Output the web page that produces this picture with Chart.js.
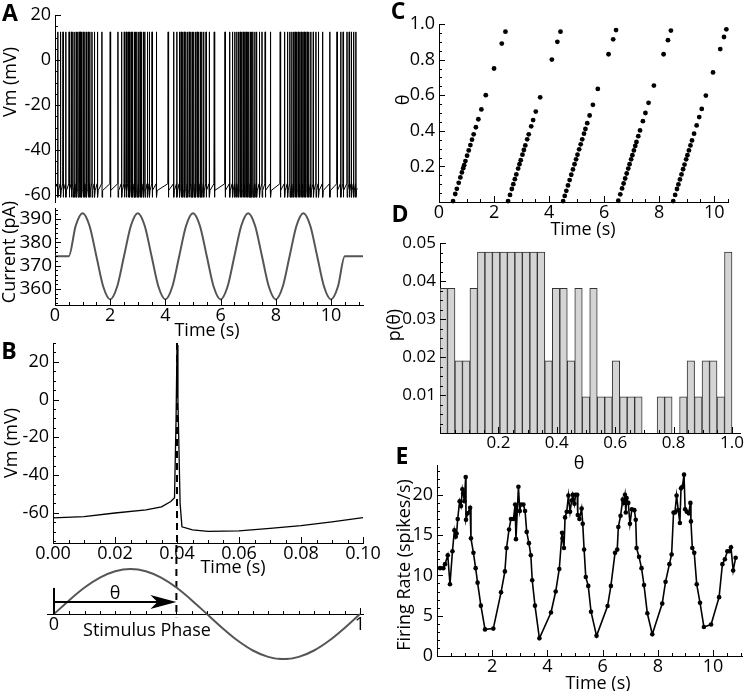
<!DOCTYPE html>
<html><head><meta charset="utf-8">
<script src="https://cdn.jsdelivr.net/npm/chart.js"></script>
<style>
html,body{margin:0;padding:0;background:#fff}
#wrap{position:relative;width:750px;height:691px;overflow:hidden;font-family:'Open Sans',sans-serif;color:#000}
#wrap canvas{position:absolute;left:0;top:0}
.t{position:absolute;white-space:nowrap;transform:translate(-50%,-50%);font-size:18px;line-height:1;z-index:5}
.t.r{transform:translate(-50%,-50%) rotate(-90deg)}
.t.p{font-weight:bold;font-size:23px}
</style></head><body><div id="wrap"></div>
<script>
// ================= DATA =================
// Panel C: stimulus phase (theta) of each spike, one array per stimulus cycle
const cycleStart = [0.5, 2.5, 4.5, 6.5, 8.5];   // s, start of each stimulus cycle
const stimPeriod = 2;                            // s
const thetaCycle1 = [0.005,0.045,0.074,0.108,0.138,0.166,0.19,0.207,0.23,0.26,0.29,0.32,0.35,0.38,0.42,0.465,0.52,0.6,0.75,0.89,0.957];
const thetaCycle2 = [0.005,0.04,0.073,0.1,0.128,0.155,0.188,0.212,0.235,0.266,0.292,0.318,0.352,0.38,0.425,0.46,0.508,0.588,0.80,0.9,0.957];
const thetaCycle3 = [0.005,0.034,0.063,0.093,0.123,0.153,0.183,0.212,0.24,0.266,0.296,0.324,0.352,0.384,0.41,0.443,0.486,0.546,0.635,0.83,0.914,0.966];
const thetaCycle4 = [0.007,0.043,0.076,0.104,0.132,0.16,0.188,0.212,0.24,0.263,0.29,0.315,0.337,0.37,0.402,0.454,0.5,0.557,0.654,0.83,0.909,0.963];
const thetaCycle5 = [0.005,0.04,0.073,0.099,0.127,0.155,0.184,0.21,0.24,0.263,0.29,0.318,0.346,0.384,0.43,0.477,0.523,0.598,0.728,0.859,0.927,0.97];

// Panel A: extra spikes outside the stimulus window, and trace levels (mV)
const aPreStimSpikes = [0.10, 0.20, 0.29, 0.39];
const aPostStimSpikes = [10.58, 10.66, 10.74, 10.82, 10.90];
const aPreSpikeVm = -55, aSpikePeakVm = 12.5, aAhpVm = -61, aRecoverVm = -58;

// Panel A: injected current (pA)
const currentTime = [0,0.5,0.75,1,1.25,1.5,1.75,2,2.25,2.5,2.75,3,3.25,3.5,3.75,4,4.25,4.5,4.75,5,5.25,5.5,5.75,6,6.25,6.5,6.75,7,7.25,7.5,7.75,8,8.25,8.5,8.75,9,9.25,9.5,9.75,10,10.25,10.5,11.16];
const currentPA = [374,374,387.1,392.5,387.1,374,360.9,355.5,360.9,374,387.1,392.5,387.1,374,360.9,355.5,360.9,374,387.1,392.5,387.1,374,360.9,355.5,360.9,374,387.1,392.5,387.1,374,360.9,355.5,360.9,374,387.1,392.5,387.1,374,360.9,355.5,360.9,374,374];

// Panel B: single spike
const bTime = [0,0.01,0.02,0.03,0.035,0.038,0.0392,0.0397,0.04,0.0403,0.041,0.0416,0.045,0.05,0.06,0.07,0.08,0.09,0.1];
const bVm   = [-62.7,-62,-60.1,-58.4,-56.8,-54,-52,-10,29,0,-55,-67.4,-69,-69.8,-69.6,-68.3,-66.8,-64.8,-62.6];
const bSpikeTime = 0.04;
// Panel B: stimulus phase sketch
const phaseX = [0,0.05,0.1,0.15,0.2,0.25,0.3,0.35,0.4,0.45,0.5,0.55,0.6,0.65,0.7,0.75,0.8,0.85,0.9,0.95,1];
const phaseY = [0,0.309,0.588,0.809,0.951,1,0.951,0.809,0.588,0.309,0,-0.309,-0.588,-0.809,-0.951,-1,-0.951,-0.809,-0.588,-0.309,0];
const spikePhase = 0.4;

// Panel D: histogram of theta (39 equal bins over 0..1)
const histBinWidth = 1 / 39;
const histProb = [0.0381,0.0381,0.019,0.019,0.0381,0.0476,0.0476,0.0476,0.0476,0.0476,0.0476,0.0476,0.0476,0.0476,0.019,0.0381,0.0381,0.019,0.0381,0.0095,0.0381,0.0095,0.0095,0.019,0.0095,0.0095,0.0095,0,0,0.0095,0.0095,0,0.0095,0.019,0.0095,0.019,0.019,0.0095,0.0476];

// Panel E: firing rate
const eTime = [0.11,0.23,0.29,0.39,0.47,0.56,0.63,0.68,0.71,0.75,0.82,0.87,0.92,0.95,0.99,1.04,1.05,1.11,1.20,1.23,1.32,1.40,1.47,1.59,1.74,2.04,2.32,2.46,2.52,2.61,2.68,2.77,2.83,2.86,2.95,3.00,3.04,3.13,3.19,3.25,3.33,3.40,3.45,3.55,3.71,4.13,4.30,4.43,4.53,4.55,4.60,4.64,4.70,4.76,4.82,4.88,4.92,4.98,5.02,5.08,5.10,5.16,5.24,5.28,5.33,5.39,5.48,5.58,5.78,6.18,6.30,6.45,6.53,6.57,6.65,6.73,6.76,6.81,6.84,6.87,6.93,6.99,7.06,7.15,7.20,7.23,7.32,7.41,7.50,7.62,7.80,8.16,8.28,8.42,8.50,8.57,8.62,8.68,8.74,8.80,8.84,8.89,8.95,8.99,9.05,9.12,9.18,9.20,9.25,9.32,9.41,9.53,9.67,9.93,10.22,10.34,10.43,10.52,10.59,10.65,10.73,10.82];
const eRate = [10.9,10.9,11.4,12.5,8.9,13.0,15.6,14.8,15.2,17.0,19.2,18.6,20.7,20.2,19.2,22.2,16.9,17.7,18.4,14.6,12.8,10.9,9.1,6.25,3.3,3.4,7.9,10.5,13.4,15.7,17.0,17.0,18.8,14.5,21.0,18.0,18.8,18.8,18.0,15.4,14.0,12.5,9.4,6.25,2.2,5.4,8.0,10.8,15.3,14.6,13.4,17.2,17.9,19.9,17.9,19.3,20.0,18.9,20.0,20.0,17.5,17.0,18.3,16.4,13.2,9.8,8.7,5.5,2.5,6.2,8.7,12.8,13.2,16.0,17.4,19.4,19.0,20.0,17.8,19.6,19.0,16.4,18.2,18.1,16.9,13.4,12.3,10.9,8.8,5.3,2.7,6.5,9.2,11.4,12.6,17.8,17.8,19.9,18.1,16.5,20.8,21.0,22.5,18.2,17.9,17.7,19.0,16.7,13.4,12.8,8.9,6.6,3.6,3.9,7.3,11.4,12.0,13.0,13.0,13.5,10.6,12.2];

// ================= SETUP =================
Chart.defaults.font.family = "'Open Sans', sans-serif";
Chart.defaults.font.size = 17;
Chart.defaults.color = '#000';
Chart.defaults.animation = false;
Chart.defaults.responsive = false;
Chart.defaults.plugins.legend.display = false;
Chart.defaults.plugins.tooltip.enabled = false;

const inTicks = {
  id: 'inTicks',
  afterDraw(chart, args, opts) {
    const spec = opts && opts.axes; if (!spec) return;
    const ctx = chart.ctx;
    ctx.save(); ctx.strokeStyle = '#000'; ctx.lineWidth = 1;
    for (const id of Object.keys(spec)) {
      const s = chart.scales[id], cfg = spec[id]; if (!s) continue;
      const horiz = s.isHorizontal();
      const pos = s.options.position;
      let base;
      if (pos && typeof pos === 'object') { const k = Object.keys(pos)[0]; base = chart.scales[k].getPixelForValue(pos[k]); }
      else base = horiz ? s.top : s.right;
      const dir = horiz ? -1 : 1;
      const mark = (v, len) => {
        const p = Math.round(s.getPixelForValue(v)) + 0.5;
        ctx.beginPath();
        if (horiz) { ctx.moveTo(p, base); ctx.lineTo(p, base + dir * len); }
        else { ctx.moveTo(base, p); ctx.lineTo(base + dir * len, p); }
        ctx.stroke();
      };
      if (cfg.minor) {
        const first = Math.ceil((s.min - 1e-9) / cfg.minor);
        for (let i = first; i * cfg.minor <= s.max + 1e-9; i++) mark(i * cfg.minor, 3);
      }
      s.ticks.forEach(t => mark(t.value, 6));
    }
    ctx.restore();
  }
};
Chart.register(inTicks);

const wrap = document.getElementById('wrap');
function mkCanvas() {
  const c = document.createElement('canvas');
  c.width = 750; c.height = 691; c.style.width = '750px'; c.style.height = '691px';
  wrap.appendChild(c); return c;
}
const fixW = w => s => { s.width = w; s.paddingTop = 0; s.paddingBottom = 0; s.paddingLeft = 0; s.paddingRight = 0; };
const fixH = h => s => { s.height = h; s.paddingTop = 0; s.paddingBottom = 0; s.paddingLeft = 0; s.paddingRight = 0; };
function axis(o) {
  return {
    type: 'linear', min: o.min, max: o.max, offset: false, display: o.display !== false,
    position: o.position,
    grid: { display: false, drawTicks: false },
    border: { display: true, color: '#000', width: 1 },
    ticks: { stepSize: o.step, autoSkip: false, maxRotation: 0, minRotation: 0, includeBounds: false,
             padding: o.pad !== undefined ? o.pad : 3, color: '#000', font: { size: o.size || 17 }, callback: o.fmt },
    afterFit: o.fit
  };
}
// padding so that the chart area lands at (l,t)-(r,b) in page pixels
const pad = (a, yW, xH) => ({ left: a.l - yW, top: a.t, right: 750 - a.r, bottom: 691 - a.b - xH });

// ----- derived tables -----
const thetaCycles = [thetaCycle1, thetaCycle2, thetaCycle3, thetaCycle4, thetaCycle5];
const cPoints = thetaCycles.flatMap((c, k) => c.map(th => ({ x: cycleStart[k] + th * stimPeriod, y: th })));
const aSpikeTimes = [...aPreStimSpikes, ...cPoints.map(p => p.x), ...aPostStimSpikes].sort((p, q) => p - q);
const vmTrace = [{ x: 0, y: -57 }];
for (const t of aSpikeTimes) vmTrace.push({ x: t - 0.012, y: aPreSpikeVm }, { x: t, y: aSpikePeakVm }, { x: t + 0.005, y: aAhpVm }, { x: t + 0.025, y: aRecoverVm });
vmTrace.push({ x: 10.95, y: -57 });

// ================= PANEL A (top) =================
new Chart(mkCanvas(), {
  type: 'line',
  data: { datasets: [{ data: vmTrace, borderColor: '#000', borderWidth: 1, pointRadius: 0, tension: 0 }] },
  options: {
    layout: { padding: pad({ l: 55, t: 15, r: 363, b: 202 }, 55, 0) },
    scales: {
      x: axis({ min: 0, max: 11.16, step: 2, display: false }),
      y: axis({ min: -63.1, max: 20, step: 20, pad: 4, size: 18, fit: fixW(55) })
    },
    plugins: { inTicks: { axes: { y: { minor: 5 } } } }
  }
});
// ================= PANEL A (bottom) =================
new Chart(mkCanvas(), {
  type: 'line',
  data: { datasets: [{ data: currentTime.map((t, i) => ({ x: t, y: currentPA[i] })), borderColor: '#555', borderWidth: 2, pointRadius: 0, cubicInterpolationMode: 'monotone' }] },
  options: {
    layout: { padding: pad({ l: 55, t: 208, r: 363, b: 305 }, 55, 30) },
    scales: {
      x: axis({ min: 0, max: 11.16, step: 2, pad: 0, size: 18, fit: fixH(30) }),
      y: axis({ min: 353.1, max: 394.7, step: 10, pad: 3, size: 19, fit: fixW(55) })
    },
    plugins: { inTicks: { axes: { x: { minor: 0.5 }, y: { minor: 2 } } } }
  }
});
// ================= PANEL B (spike) =================
new Chart(mkCanvas(), {
  type: 'line',
  data: { datasets: [
    { data: bTime.map((t, i) => ({ x: t, y: bVm[i] })), borderColor: '#000', borderWidth: 1.3, pointRadius: 0, tension: 0 },
    { data: [{ x: bSpikeTime, y: 30 }, { x: bSpikeTime, y: -76 }], borderColor: '#000', borderWidth: 2, borderDash: [7, 5], pointRadius: 0 }
  ] },
  options: {
    layout: { padding: pad({ l: 53, t: 343, r: 363, b: 543 }, 53, 30) },
    scales: {
      x: axis({ min: 0, max: 0.1, step: 0.02, pad: 0, size: 18, fmt: v => v.toFixed(2), fit: fixH(30) }),
      y: axis({ min: -76, max: 30, step: 20, pad: 4, size: 18, fit: fixW(53) })
    },
    plugins: { inTicks: { axes: { x: { minor: 0.005 }, y: { minor: 5 } } } }
  }
});
// ================= PANEL B (phase sketch) =================
const phaseArrow = {
  id: 'phaseArrow',
  afterDatasetsDraw(chart, args, o) {
    const xs = chart.scales.x, ys = chart.scales.y, ctx = chart.ctx;
    const x0 = xs.getPixelForValue(o.from), x1 = xs.getPixelForValue(o.to), y = ys.getPixelForValue(o.level);
    ctx.save(); ctx.strokeStyle = '#000'; ctx.fillStyle = '#000'; ctx.lineWidth = 2;
    ctx.beginPath(); ctx.moveTo(x0, ys.getPixelForValue(0)); ctx.lineTo(x0, ys.getPixelForValue(o.markerTop)); ctx.stroke();
    ctx.beginPath(); ctx.moveTo(x0, y); ctx.lineTo(x1 - 18, y); ctx.stroke();
    ctx.beginPath(); ctx.moveTo(x1, y); ctx.lineTo(x1 - 26, y - 7); ctx.lineTo(x1 - 19, y); ctx.lineTo(x1 - 26, y + 7); ctx.closePath(); ctx.fill();
    ctx.restore();
  }
};
new Chart(mkCanvas(), {
  type: 'line',
  data: { datasets: [
    { data: phaseX.map((x, i) => ({ x, y: phaseY[i] })), borderColor: '#555', borderWidth: 2, pointRadius: 0, cubicInterpolationMode: 'monotone' },
    { data: [{ x: spikePhase, y: 1.533 }, { x: spikePhase, y: -0.07 }], borderColor: '#000', borderWidth: 2, borderDash: [7, 5], pointRadius: 0 }
  ] },
  options: {
    layout: { padding: pad({ l: 47.9, t: 545, r: 363, b: 660 }, 0, 0) },
    scales: {
      x: axis({ min: -0.02, max: 1.01, step: 1, pad: 0, size: 18, position: { y: 0 }, fit: fixH(0) }),
      y: axis({ min: -1.02, max: 1.533, display: false })
    },
    plugins: { inTicks: { axes: { x: { minor: 0.05 } } }, phaseArrow: { from: 0, to: spikePhase, level: 0.267, markerTop: 0.58 } }
  },
  plugins: [phaseArrow]
});
// ================= PANEL C =================
new Chart(mkCanvas(), {
  type: 'scatter',
  data: { datasets: [{ data: cPoints, backgroundColor: '#000', borderWidth: 0, pointRadius: 2.4, clip: false }] },
  options: {
    layout: { padding: pad({ l: 439, t: 24, r: 728, b: 202 }, 50, 30) },
    scales: {
      x: axis({ min: 0, max: 10.5, step: 2, pad: 0, size: 18, fit: fixH(30) }),
      y: axis({ min: 0, max: 1, step: 0.2, pad: 4, size: 18, fmt: v => v === 0 ? '' : v.toFixed(1), fit: fixW(50) })
    },
    plugins: { inTicks: { axes: { x: { minor: 0.5 }, y: { minor: 0.05 } } } }
  }
});
// ================= PANEL D =================
new Chart(mkCanvas(), {
  type: 'bar',
  data: { datasets: [{ data: histProb.map((p, i) => ({ x: (i + 0.5) * histBinWidth, y: p })), backgroundColor: '#d4d4d4', borderColor: '#333', borderWidth: 1, barPercentage: 1, categoryPercentage: 1 }] },
  options: {
    layout: { padding: pad({ l: 440, t: 243, r: 740, b: 433 }, 50, 30) },
    scales: {
      x: axis({ min: 0, max: 1.0274, step: 0.2, pad: 0, fmt: v => v === 0 ? '' : v.toFixed(1), fit: fixH(30) }),
      y: axis({ min: 0, max: 0.05, step: 0.01, pad: 4, fmt: v => v === 0 ? '' : v.toFixed(2), fit: fixW(50) })
    },
    plugins: { inTicks: { axes: { x: { minor: 0.05 }, y: { minor: 0.0025 } } } }
  }
});
// ================= PANEL E =================
new Chart(mkCanvas(), {
  type: 'line',
  data: { datasets: [{ data: eTime.map((t, i) => ({ x: t, y: eRate[i] })), borderColor: '#000', backgroundColor: '#000', borderWidth: 1.6, pointRadius: 2.3, pointBorderWidth: 0, tension: 0 }] },
  options: {
    layout: { padding: pad({ l: 437, t: 465, r: 742, b: 656 }, 50, 30) },
    scales: {
      x: axis({ min: 0, max: 11.05, step: 2, pad: 0, size: 18, fmt: v => v === 0 ? '' : String(v), fit: fixH(30) }),
      y: axis({ min: 0, max: 23.7, step: 5, pad: 4, size: 18, fit: fixW(50) })
    },
    plugins: { inTicks: { axes: { x: { minor: 0.5 }, y: { minor: 1 } } } }
  }
});

// ================= TEXT =================
const texts = [
  ['A', 10, 12, 'p'], ['B', 9, 350, 'p'], ['C', 398, 10, 'p'], ['D', 400, 213, 'p'], ['E', 402, 455, 'p'],
  ['Vm (mV)', 9, 82, 'r'], ['Current (pA)', 8, 252, 'r'], ['Time (s)', 207, 329, ''],
  ['Vm (mV)', 10, 443, 'r'], ['Time (s)', 233, 566, ''],
  ['θ', 115, 592, ''], ['Stimulus Phase', 147, 629, ''],
  ['θ', 402, 100, 'r'], ['Time (s)', 583, 228, ''],
  ['p(θ)', 393, 325, 'r'], ['θ', 579, 462, ''],
  ['Firing Rate (spikes/s)', 403, 565, 'r'], ['Time (s)', 598, 682, '']
];
for (const [s, x, y, cls] of texts) {
  const d = document.createElement('div');
  d.className = 't ' + cls; d.textContent = s;
  d.style.left = x + 'px'; d.style.top = y + 'px';
  wrap.appendChild(d);
}
</script></body></html>
